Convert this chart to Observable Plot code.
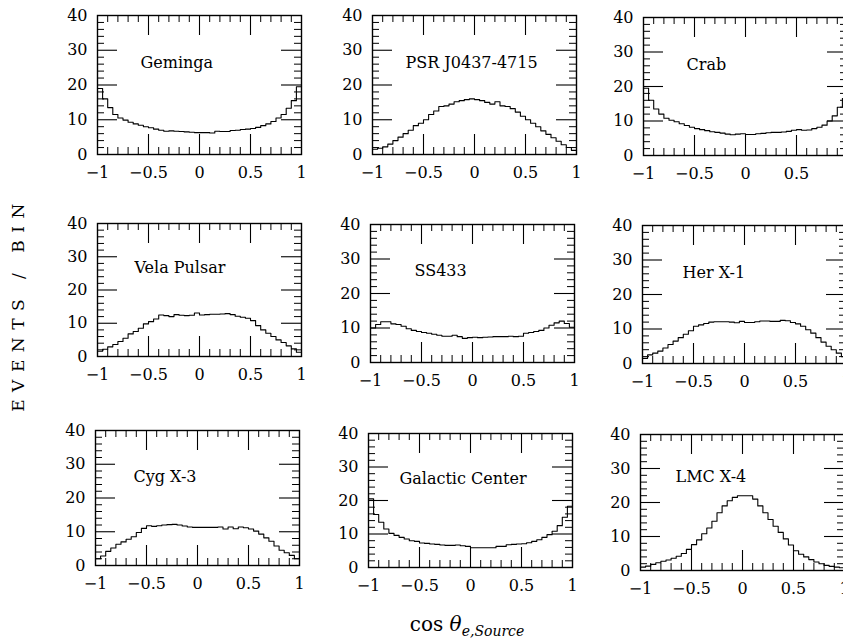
<!DOCTYPE html>
<html>
<head>
<meta charset="utf-8">
<script src="https://cdn.jsdelivr.net/npm/d3@7"></script>
<script src="https://cdn.jsdelivr.net/npm/@observablehq/plot@0.6"></script>
<style>
html, body { margin: 0; padding: 0; background: #fff; }
#root { position: relative; width: 843px; height: 643px; overflow: hidden; background: #fff; font-family: "DejaVu Serif", serif; color: #000; }
.panel { position: absolute; }
#ylab { position: absolute; width: 280px; left: -122px; top: 293px; text-align: center; transform: rotate(-90deg); transform-origin: 50% 50%; font-size: 17px; letter-spacing: 7.5px; line-height: 22px; white-space: nowrap; }
#xlab { position: absolute; left: 0; width: 934px; top: 612px; text-align: center; font-size: 20px; line-height: 24px; white-space: nowrap; }
#xlab sub { font-size: 14px; vertical-align: -5px; }
</style>
</head>
<body>
<div id="root"></div>
<script>
// ---- data ----
const binEdges = [-1, -0.95, -0.9, -0.85, -0.8, -0.75, -0.7, -0.65, -0.6, -0.55, -0.5, -0.45, -0.4, -0.35, -0.3, -0.25, -0.2, -0.15, -0.1, -0.05, 0,
  0.05, 0.1, 0.15, 0.2, 0.25, 0.3, 0.35, 0.4, 0.45, 0.5, 0.55, 0.6, 0.65, 0.7, 0.75, 0.8, 0.85, 0.9, 0.95, 1];
const xTickLabels = [-1, -0.5, 0, 0.5, 1];
const yTickLabels = [0, 10, 20, 30, 40];
const xMajorTicks = [-0.5, 0, 0.5];
const xMinorTicks = [-0.9, -0.8, -0.7, -0.6, -0.4, -0.3, -0.2, -0.1, 0.1, 0.2, 0.3, 0.4, 0.6, 0.7, 0.8, 0.9];
const yMajorTicks = [10, 20, 30];
const yMinorTicks = [2, 4, 6, 8, 12, 14, 16, 18, 22, 24, 26, 28, 32, 34, 36, 38];

const sourceNames = ["Geminga", "PSR J0437-4715", "Crab", "Vela Pulsar", "SS433", "Her X-1", "Cyg X-3", "Galactic Center", "LMC X-4"];

const geminga = [19, 16, 13.5, 11.5, 10.5, 9.9, 9.3, 8.8, 8.4, 8.0, 7.7, 7.3, 7.0, 6.7, 6.8, 6.7, 6.6, 6.5, 6.4, 6.3,
  6.3, 6.3, 6.2, 6.7, 6.6, 6.6, 6.9, 7.0, 7.2, 7.3, 7.5, 7.8, 8.3, 8.8, 9.5, 10.5, 11.5, 13.3, 15.5, 19.5];
const psr = [1.5, 1.8, 2.2, 3.0, 4.0, 5.0, 6.0, 7.0, 8.3, 9.0, 10.0, 11.5, 12.5, 13.8, 14.0, 14.5, 15.2, 15.5, 15.8, 16.0,
  15.8, 15.5, 15.0, 14.5, 15.2, 14.0, 13.8, 13.2, 12.2, 11.0, 10.0, 9.0, 8.0, 6.8, 5.8, 4.8, 3.8, 2.8, 2.0, 1.2];
const crab = [19.5, 16, 13.5, 12.0, 10.8, 10.2, 9.8, 9.2, 8.7, 8.2, 7.8, 7.5, 7.2, 6.9, 6.7, 6.5, 6.2, 6.0, 6.2, 6.3,
  6.1, 6.1, 6.3, 6.4, 6.6, 6.7, 6.7, 6.8, 7.0, 7.3, 7.5, 7.3, 7.4, 7.8, 8.2, 8.8, 10.0, 11.5, 14.0, 16.5];
const vela = [1.6, 2.2, 2.9, 3.6, 4.5, 5.5, 6.8, 7.5, 8.5, 9.8, 10.5, 11.3, 12.5, 12.3, 12.0, 12.6, 12.4, 12.3, 12.4, 13.1,
  12.5, 12.6, 12.7, 12.7, 12.8, 12.9, 12.6, 12.1, 11.8, 11.5, 10.8, 9.3, 8.0, 7.0, 6.0, 5.0, 4.2, 3.2, 2.3, 1.3];
const ss433 = [10.0, 11.0, 11.8, 11.8, 11.2, 11.0, 10.5, 9.8, 9.3, 9.0, 8.7, 8.5, 8.2, 7.9, 7.6, 7.6, 7.9, 7.5, 7.0, 7.2,
  7.3, 7.2, 7.3, 7.4, 7.5, 7.5, 7.5, 7.6, 7.5, 7.6, 8.5, 8.7, 9.0, 9.3, 10.0, 10.8, 11.5, 12.0, 11.3, 10.2];
const herX1 = [1.5, 2.5, 3.0, 3.6, 4.5, 5.5, 6.5, 7.5, 8.5, 9.5, 10.8, 11.2, 11.6, 12.0, 12.1, 12.1, 12.1, 12.0, 11.8, 12.2,
  11.9, 11.9, 12.1, 12.3, 12.3, 12.2, 12.2, 12.5, 12.4, 11.9, 11.5, 10.8, 9.8, 8.8, 7.5, 6.2, 5.0, 4.0, 3.0, 2.0];
const cygX3 = [2.0, 2.8, 4.2, 5.2, 6.3, 7.0, 7.8, 8.5, 9.8, 11.0, 11.8, 11.6, 11.8, 12.0, 12.1, 12.2, 12.0, 11.7, 11.4, 11.3,
  11.3, 11.3, 11.3, 11.3, 11.4, 10.8, 11.4, 10.9, 11.4, 11.2, 10.8, 10.2, 9.3, 8.2, 7.2, 5.8, 4.5, 3.8, 3.0, 2.0];
const galCenter = [20.5, 15.8, 13.5, 11.5, 10.2, 9.6, 9.0, 8.5, 8.0, 7.8, 7.3, 7.2, 7.0, 6.9, 6.7, 6.6, 6.6, 6.7, 6.5, 6.3,
  5.9, 5.9, 5.9, 5.9, 5.9, 6.3, 6.3, 6.8, 6.9, 7.0, 7.1, 7.4, 7.8, 8.3, 9.0, 9.8, 10.8, 12.5, 15.0, 18.3];
const lmcX4 = [1.0, 1.3, 1.8, 2.3, 2.7, 3.1, 3.6, 4.2, 5.0, 6.2, 7.6, 9.0, 10.8, 12.5, 14.5, 17.0, 19.0, 20.5, 21.5, 22.0,
  22.0, 22.0, 21.0, 19.0, 17.0, 15.0, 13.0, 11.2, 9.3, 7.5, 5.8, 4.8, 4.0, 3.2, 2.5, 2.0, 1.5, 1.2, 1.0, 0.8];

const seriesValues = [geminga, psr, crab, vela, ss433, herX1, cygX3, galCenter, lmcX4];

// ---- layout (frame left, top, bottom; label offset) ----
const layout = [
  {l: 97, t: 15, b: 154, dx: 43, dy: 52},
  {l: 372, t: 15, b: 154, dx: 33, dy: 52},
  {l: 643, t: 17, b: 155, dx: 43, dy: 52},
  {l: 97, t: 223, b: 356, dx: 37, dy: 49},
  {l: 370, t: 224, b: 362, dx: 44, dy: 51},
  {l: 642, t: 225, b: 363, dx: 40, dy: 52},
  {l: 95, t: 430, b: 565, dx: 38, dy: 51},
  {l: 368, t: 433, b: 567, dx: 31, dy: 50},
  {l: 640, t: 434, b: 570, dx: 35, dy: 47}
];

const fmt = d => d === 0 ? "0" : (d < 0 ? "\u2212" : "") + Math.abs(d);
const root = document.getElementById("root");
const W = 204;
const mL = 48, mR = 4, mT = 10, mB = 36;

sourceNames.forEach((name, k) => {
  const L = layout[k];
  const values = seriesValues[k];
  const H = L.b - L.t;
  const pts = binEdges.map((x, i) => ({x, y: values[Math.min(i, values.length - 1)]}));
  const svg = Plot.plot({
    width: mL + W + mR,
    height: mT + H + mB,
    marginLeft: mL, marginRight: mR, marginTop: mT, marginBottom: mB,
    x: {domain: [-1, 1], label: null},
    y: {domain: [0, 40], label: null},
    style: {fontFamily: '"DejaVu Serif", serif', fontSize: "16px", color: "#000", background: "transparent", overflow: "visible"},
    marks: [
      Plot.tickX(xMinorTicks, {stroke: "#000", strokeWidth: 1, insetTop: H - 7}),
      Plot.tickX(xMinorTicks, {stroke: "#000", strokeWidth: 1, insetBottom: H - 7}),
      Plot.tickX(xMajorTicks, {stroke: "#000", strokeWidth: 1.1, insetTop: H - 20}),
      Plot.tickX(xMajorTicks, {stroke: "#000", strokeWidth: 1.1, insetBottom: H - 20}),
      Plot.tickY(yMinorTicks, {stroke: "#000", strokeWidth: 1, insetRight: W - 7}),
      Plot.tickY(yMinorTicks, {stroke: "#000", strokeWidth: 1, insetLeft: W - 7}),
      Plot.tickY(yMajorTicks, {stroke: "#000", strokeWidth: 1.1, insetRight: W - 20}),
      Plot.tickY(yMajorTicks, {stroke: "#000", strokeWidth: 1.1, insetLeft: W - 20}),
      Plot.line(pts, {x: "x", y: "y", curve: "step-after", stroke: "#000", strokeWidth: 1.1}),
      Plot.frame({stroke: "#000", strokeWidth: 1.4}),
      Plot.text([name], {frameAnchor: "top-left", dx: L.dx, dy: L.dy, textAnchor: "start", lineAnchor: "bottom", fontSize: 16, fill: "#000"}),
      Plot.axisX(xTickLabels, {tickSize: 0, tickPadding: 12, tickFormat: fmt, label: null, fontSize: 16, letterSpacing: 1.5}),
      Plot.axisY(yTickLabels, {tickSize: 0, tickPadding: 10, tickFormat: fmt, label: null, fontSize: 16, letterSpacing: 1})
    ]
  });
  svg.classList.add("panel");
  svg.style.left = (L.l - mL) + "px";
  svg.style.top = (L.t - mT) + "px";
  root.appendChild(svg);
});

const ylab = document.createElement("div");
ylab.id = "ylab";
ylab.textContent = "EVENTS / BIN";
root.appendChild(ylab);

const xlab = document.createElement("div");
xlab.id = "xlab";
xlab.innerHTML = "cos <i>\u03b8</i><sub><i>e,Source</i></sub>";
root.appendChild(xlab);
</script>
</body>
</html>
